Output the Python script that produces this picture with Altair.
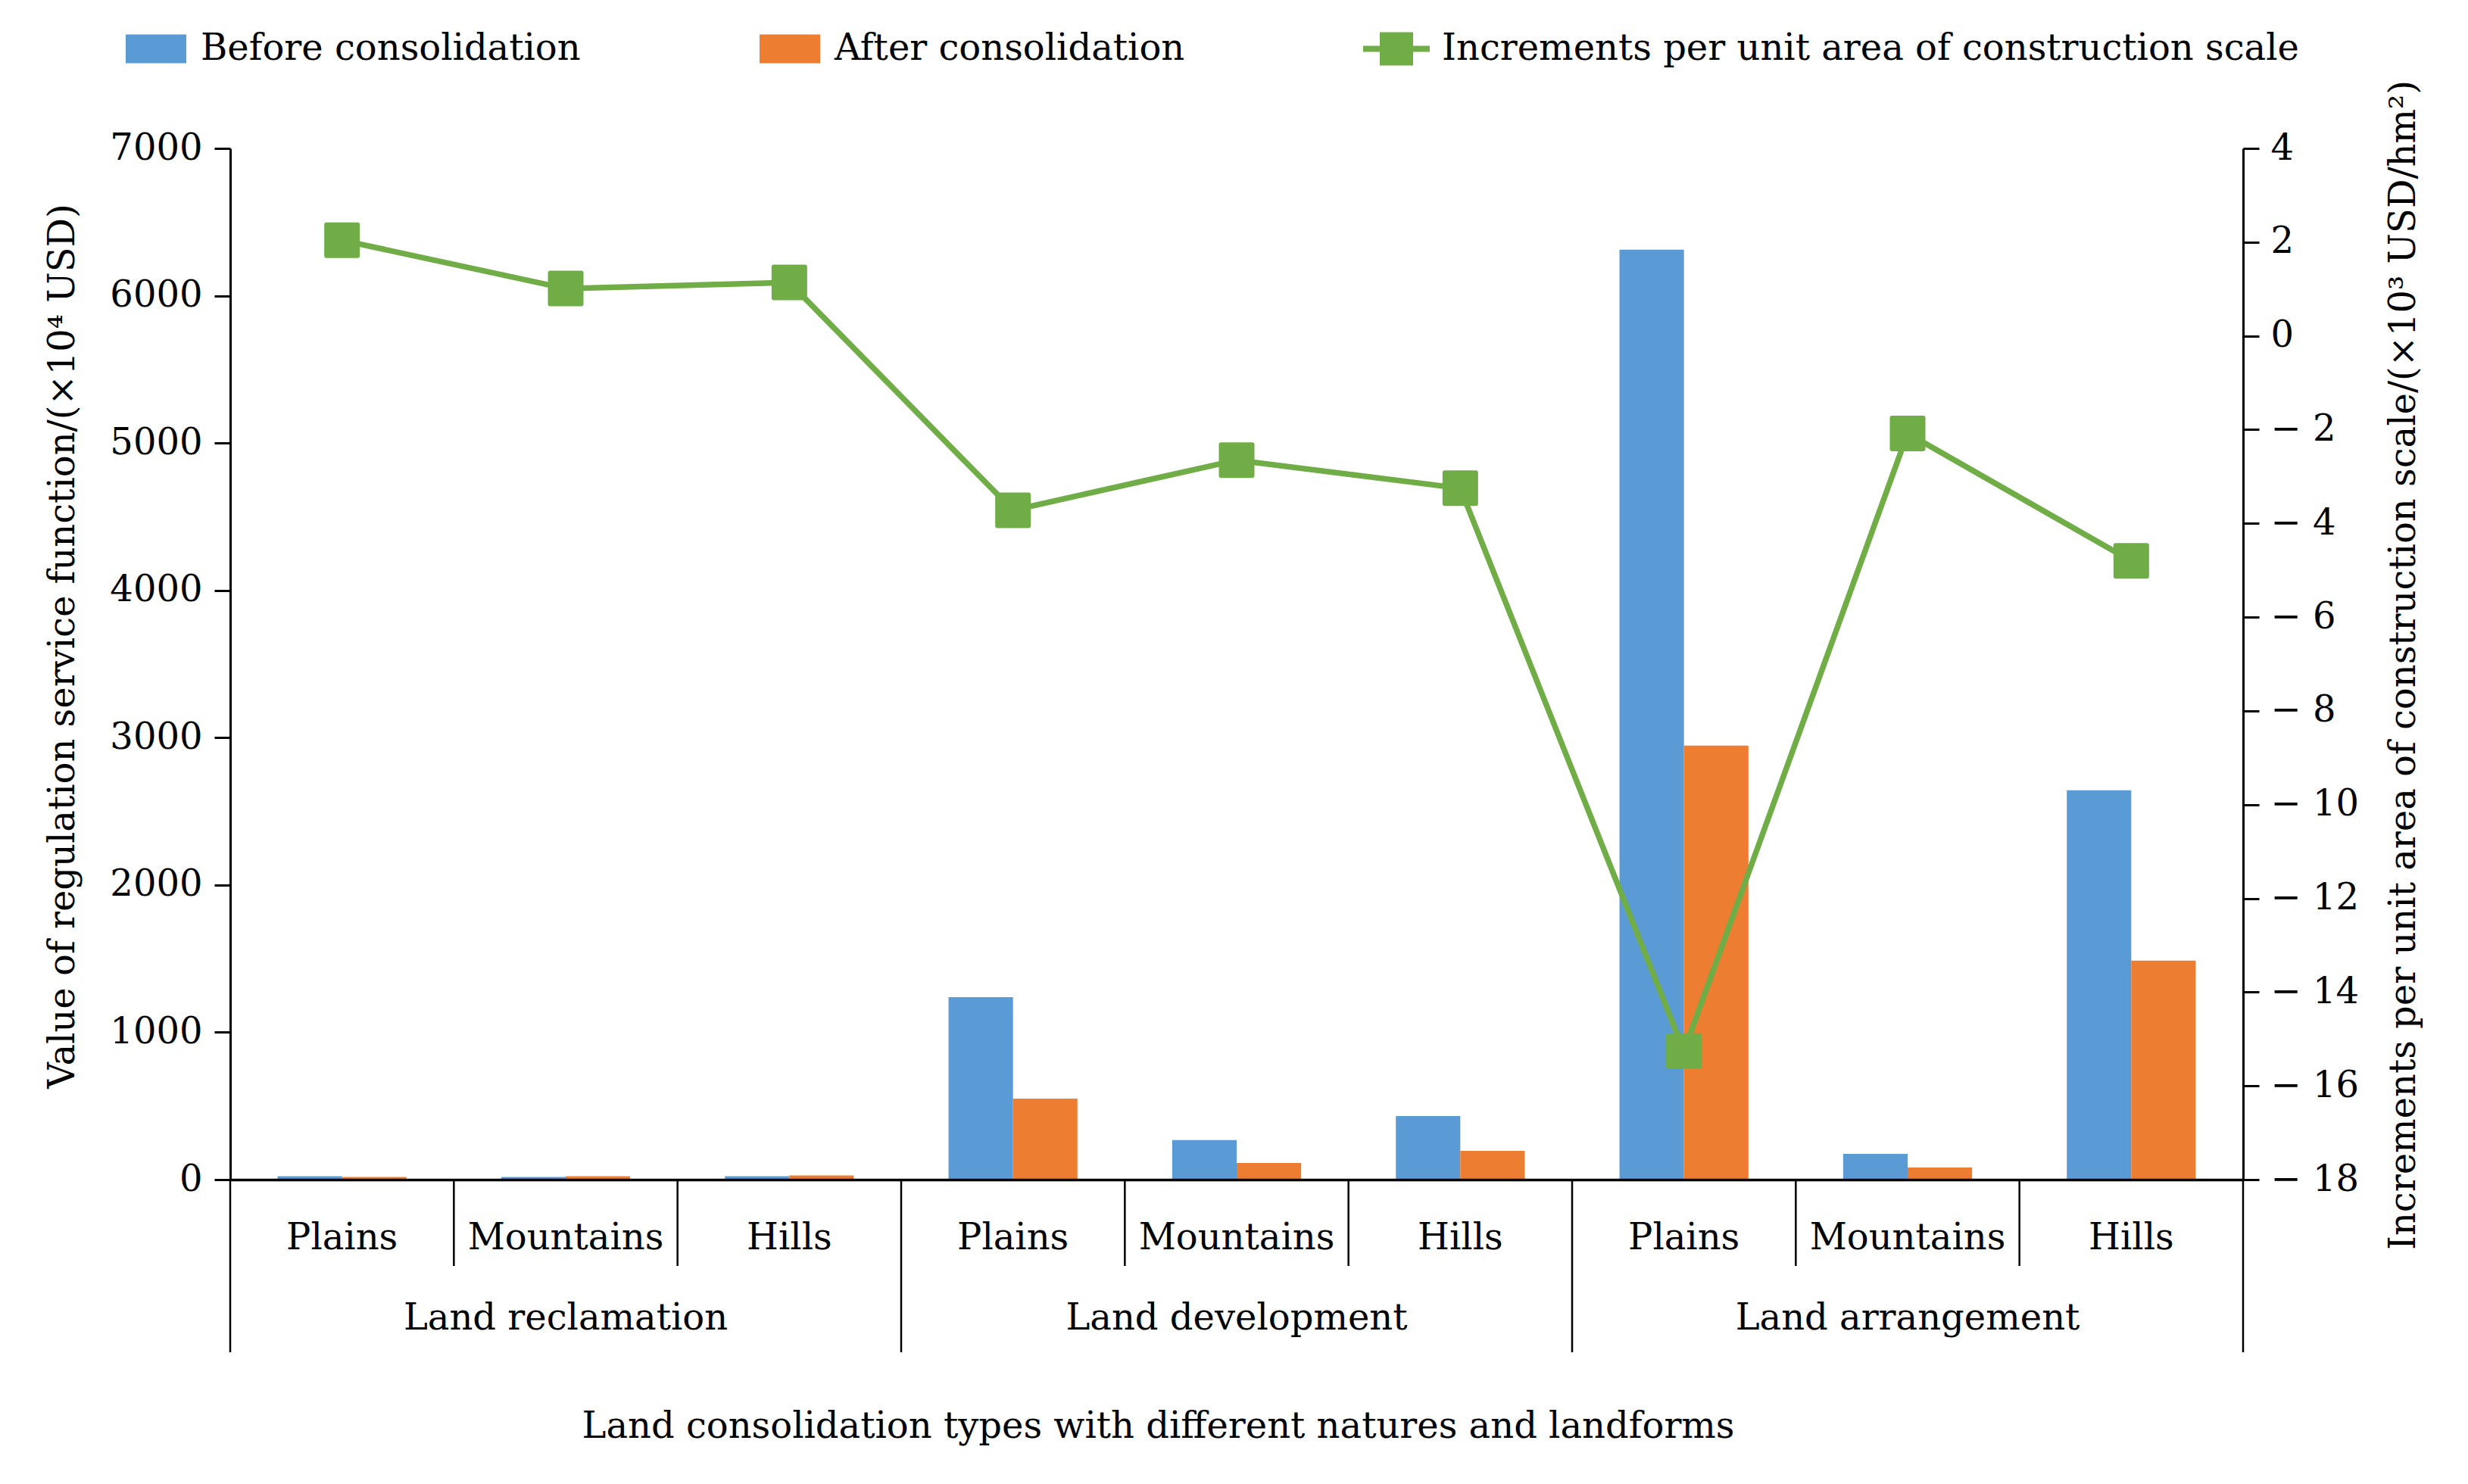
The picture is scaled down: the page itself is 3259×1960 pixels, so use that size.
import altair as alt
import pandas as pd

# ---- data ----
groups = ["Land reclamation", "Land development", "Land arrangement"]
landforms = ["Plains", "Mountains", "Hills"]
before = [23, 18, 23, 1239, 268, 432, 6313, 175, 2643]
after = [18, 23, 28, 550, 113, 195, 2946, 82, 1486]
increments = [2.04, 1.01, 1.14, -3.72, -2.65, -3.25, -15.26, -2.08, -4.80]
series_names = ["Before consolidation", "After consolidation"]
line_name = "Increments per unit area of construction scale"
left_ticks = [0, 1000, 2000, 3000, 4000, 5000, 6000, 7000]
right_ticks = [-18, -16, -14, -12, -10, -8, -6, -4, -2, 0, 2, 4]

x_title = "Land consolidation types with different natures and landforms"
y_left_title = "Value of regulation service function/(×10⁴ USD)"
y_right_title = "Increments per unit area of construction scale/(×10³ USD/hm²)"

BLUE, ORANGE, GREEN = "#5B9BD5", "#ED7D31", "#70AD47"
FONT = "DejaVu Serif"
FS = 48
W, H = 2658, 1362

cats = [f"{g}|{l}" for g in groups for l in landforms]

bars_df = pd.DataFrame({
    "cat": cats * 2,
    "series": [series_names[0]] * len(cats) + [series_names[1]] * len(cats),
    "value": before + after,
})
line_df = pd.DataFrame({"cat": cats, "incr": increments, "name": [line_name] * len(cats)})
sep_short = pd.DataFrame({"cat": [c for i, c in enumerate(cats) if i % 3 != 0]})
sep_long = pd.DataFrame({"cat": [c for i, c in enumerate(cats) if i % 3 == 0]})
sep_end = pd.DataFrame({"cat": [cats[-1]]})
group_df = pd.DataFrame({"cat": [f"{g}|{landforms[1]}" for g in groups], "group": groups})

x_scale = alt.Scale(domain=cats, paddingInner=0, paddingOuter=0)

x_axis = alt.Axis(
    title=x_title, labelExpr="split(datum.label, '|')[1]", labelAngle=0,
    ticks=False, tickSize=0, labelPadding=91, labelBaseline="alphabetic",
    labelLimit=2000, labelOverlap=False,
    labelFontSize=FS, labelColor="black", domainColor="black", domainWidth=3.3,
    titleX=1225, titleY=340, titleBaseline="alphabetic", titleAlign="center",
    titleFontSize=FS, titleFontWeight="normal", titleColor="black", grid=False, zindex=1,
)


def xenc(**kw):
    return alt.X("cat:N", scale=x_scale, sort=cats, axis=x_axis, **kw)


right_axis = alt.Axis(
    orient="right", values=right_ticks,
    labelExpr="datum.value < 0 ? '\u2212 ' + format(-datum.value, 'd') : format(datum.value, 'd')",
    tickSize=21, tickWidth=3, tickColor="black",
    domainColor="black", domainWidth=3, labelPadding=15,
    labelFontSize=FS, labelColor="black", grid=False, zindex=1,
    title=y_right_title, titleX=226, titleY=682, titleAngle=270,
    titleBaseline="alphabetic", titleAlign="center",
    titleFontSize=FS, titleFontWeight="normal", titleColor="black",
)
right_scale = alt.Scale(domain=[-18, 4], nice=False)

bars = alt.Chart(bars_df).mark_bar().encode(
    x=xenc(),
    xOffset=alt.XOffset("series:N", sort=series_names,
                        scale=alt.Scale(domain=series_names, paddingOuter=0.735, paddingInner=0)),
    y=alt.Y("value:Q", scale=alt.Scale(domain=[0, 7000], nice=False),
            axis=alt.Axis(values=left_ticks, format="d", tickSize=21, tickWidth=3, tickColor="black",
                          domainColor="black", domainWidth=3, labelPadding=16,
                          labelFontSize=FS, labelColor="black", grid=False, zindex=1,
                          title=y_left_title, titleX=-207, titleY=657, titleAngle=270,
                          titleBaseline="alphabetic", titleAlign="center",
                          titleFontSize=FS, titleFontWeight="normal", titleColor="black")),
    color=alt.Color("series:N", sort=series_names,
                    scale=alt.Scale(domain=series_names, range=[BLUE, ORANGE]),
                    legend=alt.Legend(orient="none", legendX=-138, legendY=-171.5,
                                      direction="horizontal", title=None,
                                      symbolType="M-1,-0.475H1V0.475H-1Z", symbolSize=6400,
                                      symbolStrokeWidth=0, labelFontSize=FS, labelColor="black",
                                      labelOffset=19, columnPadding=236, padding=0,
                                      labelLimit=3000)),
)

rule_short = alt.Chart(sep_short).mark_rule(color="black", strokeWidth=2.5).encode(
    x=xenc(bandPosition=0),
    y=alt.value(H), y2=alt.value(H + 114),
)
rule_long = alt.Chart(sep_long).mark_rule(color="black", strokeWidth=2.5).encode(
    x=xenc(bandPosition=0),
    y=alt.value(H), y2=alt.value(H + 228),
)
rule_end = alt.Chart(sep_end).mark_rule(color="black", strokeWidth=2.5).encode(
    x=xenc(bandPosition=1),
    y=alt.value(H), y2=alt.value(H + 228),
)
group_text = alt.Chart(group_df).mark_text(fontSize=FS, baseline="alphabetic", align="center",
                                            color="black").encode(
    x=xenc(),
    y=alt.value(H + 198),
    text="group:N",
)

line = alt.Chart(line_df).mark_line(color=GREEN, strokeWidth=7.5).encode(
    x=xenc(),
    y=alt.Y("incr:Q", scale=right_scale, axis=right_axis),
)
points = alt.Chart(line_df).mark_square(size=1681, filled=True, opacity=1, stroke=GREEN,
                                        strokeWidth=6, strokeJoin="round").encode(
    x=xenc(),
    y=alt.Y("incr:Q", scale=right_scale, axis=right_axis),
    color=alt.Color("name:N", scale=alt.Scale(domain=[line_name], range=[GREEN]),
                    legend=alt.Legend(orient="none", legendX=1496, legendY=-175.5,
                                      direction="horizontal", title=None,
                                      symbolType="M-1,-0.09H1V0.09H-1Z M-0.5,-0.5H0.5V0.5H-0.5Z",
                                      symbolSize=7744, symbolStrokeWidth=0,
                                      labelFontSize=FS, labelColor="black",
                                      labelOffset=16, padding=0, labelLimit=3000)),
)

line_layer = alt.layer(line, points)

chart = alt.layer(bars, rule_short, rule_long, rule_end, group_text, line_layer).resolve_scale(
    y="independent", color="independent"
).properties(
    width=W, height=H,
    autosize=alt.AutoSizeParams(type="none"),
    padding={"left": 296, "top": 188, "right": 280, "bottom": 390},
).configure(font=FONT).configure_view(stroke=None)

chart.save("out.html", embed_options={"renderer": "svg", "actions": False})
